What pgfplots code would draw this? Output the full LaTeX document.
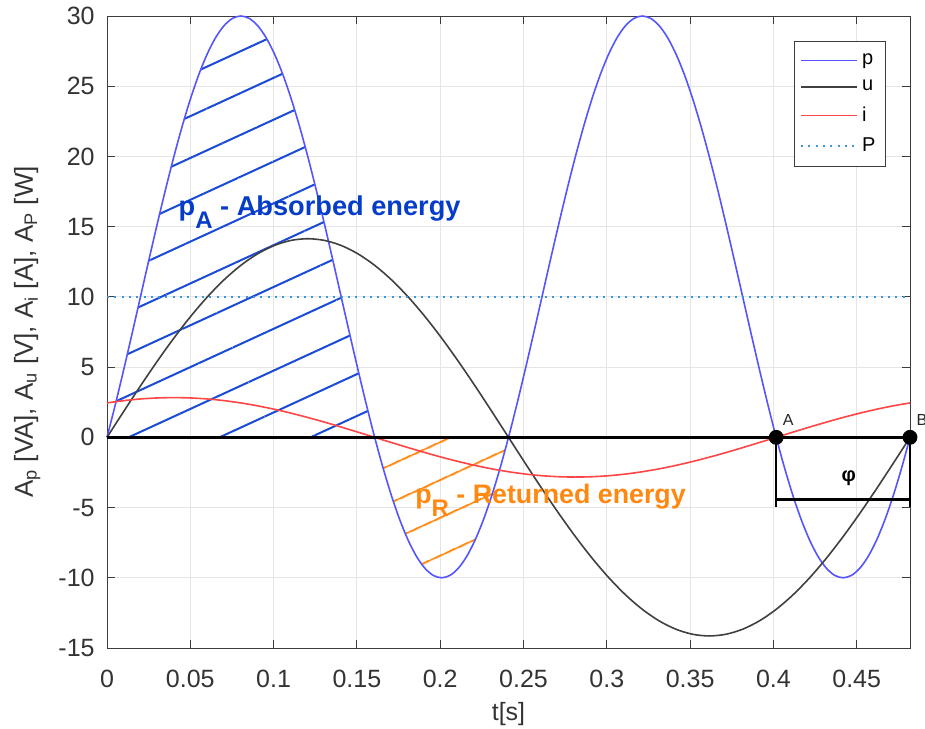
\documentclass[border=0pt]{standalone}
\usepackage{fontspec}
\setmainfont{Liberation Sans}
\usepackage{pgfplots}
\usepackage{pgfplotstable}
\pgfplotsset{compat=1.18}
\usepgfplotslibrary{fillbetween}
\usetikzlibrary{patterns.meta}
\definecolor{pblue}{RGB}{85,85,255}
\definecolor{ugray}{RGB}{64,64,64}
\definecolor{ired}{RGB}{255,70,70}
\definecolor{pdot}{RGB}{60,150,215}
\definecolor{hatchblue}{RGB}{25,75,215}
\definecolor{textblue}{RGB}{5,60,200}
\definecolor{orng}{RGB}{255,136,17}
\definecolor{axgray}{RGB}{60,60,60}
\pgfplotstableread{
t p
0.00000 0
0.00502 2.346
0.01004 4.824
0.01506 7.389
0.02008 10
0.02510 12.611
0.03013 15.176
0.03515 17.654
0.04017 20
0.04519 22.175
0.05021 24.142
0.05523 25.867
0.06025 27.321
0.06527 28.478
0.07029 29.319
0.07531 29.829
0.08033 30
0.08535 29.829
0.09038 29.319
0.09540 28.478
0.10042 27.321
0.10544 25.867
0.11046 24.142
0.11548 22.175
0.12050 20
0.12552 17.654
0.13054 15.176
0.13556 12.611
0.14058 10
0.14560 7.389
0.15063 4.824
0.15565 2.346
0.16067 0
0.16569 -2.175
0.17071 -4.142
0.17573 -5.867
0.18075 -7.321
0.18577 -8.478
0.19079 -9.319
0.19581 -9.829
0.20083 -10
0.20585 -9.829
0.21088 -9.319
0.21590 -8.478
0.22092 -7.321
0.22594 -5.867
0.23096 -4.142
0.23598 -2.175
0.24100 0
0.24602 2.346
0.25104 4.824
0.25606 7.389
0.26108 10
0.26610 12.611
0.27113 15.176
0.27615 17.654
0.28117 20
0.28619 22.175
0.29121 24.142
0.29623 25.867
0.30125 27.321
0.30627 28.478
0.31129 29.319
0.31631 29.829
0.32133 30
0.32635 29.829
0.33138 29.319
0.33640 28.478
0.34142 27.321
0.34644 25.867
0.35146 24.142
0.35648 22.175
0.36150 20
0.36652 17.654
0.37154 15.176
0.37656 12.611
0.38158 10
0.38660 7.389
0.39163 4.824
0.39665 2.346
0.40167 0
0.40669 -2.175
0.41171 -4.142
0.41673 -5.867
0.42175 -7.321
0.42677 -8.478
0.43179 -9.319
0.43681 -9.829
0.44183 -10
0.44685 -9.829
0.45188 -9.319
0.45690 -8.478
0.46192 -7.321
0.46694 -5.867
0.47196 -4.142
0.47698 -2.175
0.48200 0
}\ptab
\pgfplotstableread{
t u i
0.00000 0 2.449
0.01004 1.846 2.613
0.02008 3.660 2.732
0.03013 5.412 2.804
0.04017 7.071 2.828
0.05021 8.609 2.804
0.06025 10.000 2.732
0.07029 11.220 2.613
0.08033 12.247 2.449
0.09038 13.066 2.244
0.10042 13.660 2.000
0.11046 14.021 1.722
0.12050 14.142 1.414
0.13054 14.021 1.082
0.14058 13.660 0.732
0.15063 13.066 0.369
0.16067 12.247 0
0.17071 11.220 -0.369
0.18075 10.000 -0.732
0.19079 8.609 -1.082
0.20083 7.071 -1.414
0.21088 5.412 -1.722
0.22092 3.660 -2.000
0.23096 1.846 -2.244
0.24100 0 -2.449
0.25104 -1.846 -2.613
0.26108 -3.660 -2.732
0.27113 -5.412 -2.804
0.28117 -7.071 -2.828
0.29121 -8.609 -2.804
0.30125 -10.000 -2.732
0.31129 -11.220 -2.613
0.32133 -12.247 -2.449
0.33138 -13.066 -2.244
0.34142 -13.660 -2.000
0.35146 -14.021 -1.722
0.36150 -14.142 -1.414
0.37154 -14.021 -1.082
0.38158 -13.660 -0.732
0.39163 -13.066 -0.369
0.40167 -12.247 0
0.41171 -11.220 0.369
0.42175 -10.000 0.732
0.43179 -8.609 1.082
0.44183 -7.071 1.414
0.45188 -5.412 1.722
0.46192 -3.660 2.000
0.47196 -1.846 2.244
0.48200 0 2.449
}\uitab
\begin{document}
\begin{tikzpicture}
\begin{axis}[
  set layers,
  width=401.5pt, height=316pt, scale only axis,
  xmin=0, xmax=0.482, ymin=-15, ymax=30,
  clip=false,
  xtick={0,0.05,0.1,0.15,0.2,0.25,0.3,0.35,0.4,0.45},
  xticklabels={0,0.05,0.1,0.15,0.2,0.25,0.3,0.35,0.4,0.45},
  ytick={-15,-10,-5,0,5,10,15,20,25,30},
  yticklabels={-15,-10,-5,0,5,10,15,20,25,30},
  tick align=inside, major tick length=4pt,
  grid=major, grid style={color=black!10, line width=0.5pt},
  axis line style={color=axgray, line width=0.5pt},
  tick style={color=axgray, line width=0.5pt},
  ticklabel style={font=\fontsize{12.5}{14}\selectfont, text=black!80},
  xticklabel style={anchor=base, yshift=-19.5pt},
  yticklabel style={anchor=east, inner sep=0pt, xshift=-6pt},
  xlabel={t[s]},
  xlabel style={at={(axis description cs:0.5,0)}, anchor=base, yshift=-36pt, font=\fontsize{12.5}{14}\selectfont, text=black!80},
  ylabel={A\textsubscript{p} [VA], A\textsubscript{u} [V], A\textsubscript{i} [A], A\textsubscript{P} [W]},
  ylabel style={at={(axis description cs:-0.0922,0.5)}, anchor=base, font=\fontsize{13}{15}\selectfont, text=black!80},
  legend cell align=left,
  legend image code/.code={\draw[#1] (0pt,0pt) -- (28pt,0pt);},
  legend style={at={(axis description cs:1,1)}, anchor=north east, xshift=-12pt, yshift=-12.5pt,
    draw=axgray, line width=0.5pt, font=\fontsize{10}{12}\selectfont, row sep=2.5pt, inner ysep=4pt},
]
\addplot[pblue, line width=0.8pt, smooth, name path=pp] table[x=t,y=p]{\ptab};
\addlegendentry{p}
\addplot[ugray, line width=0.8pt, smooth] table[x=t,y=u]{\uitab};
\addlegendentry{u}
\addplot[ired, line width=0.8pt, smooth] table[x=t,y=i]{\uitab};
\addlegendentry{i}
\addplot[pdot, line width=1pt, dash pattern=on 1pt off 2.65pt] coordinates {(0,10) (0.482,10)};
\addlegendentry{P}
\addplot[black, line width=1.3pt, name path=zero, forget plot] coordinates {(0,0) (0.482,0)};
\addplot[draw=none, pattern={Lines[angle=24.7, distance=19pt, line width=1pt, yshift=11.2pt]}, pattern color=hatchblue, forget plot]
  fill between[of=pp and zero, soft clip={domain=0:0.16067}];
\addplot[draw=none, pattern={Lines[angle=24.7, distance=17pt, line width=1pt, yshift=3.6pt]}, pattern color=orng, forget plot]
  fill between[of=pp and zero, soft clip={domain=0.16067:0.24100}];
\addplot[black, line width=1.2pt, forget plot] coordinates {(0.40167,0) (0.40167,-4.97)};
\addplot[black, line width=1.2pt, forget plot] coordinates {(0.482,0) (0.482,-4.97)};
\addplot[black, line width=1.2pt, forget plot] coordinates {(0.40167,-4.44) (0.482,-4.44)};
\addplot[only marks, mark=*, mark size=3.5pt, black, forget plot] coordinates {(0.40167,0) (0.482,0)};
\node[anchor=base west, inner sep=0pt, font=\fontsize{8}{9}\selectfont, text=black!85] at (axis cs:0.4054,0.855) {A};
\node[anchor=base west, inner sep=0pt, font=\fontsize{8}{9}\selectfont, text=black!85] at (axis cs:0.4858,0.855) {B};
\node[anchor=center, inner sep=0pt, font=\fontsize{10}{12}\selectfont\bfseries] at (axis cs:0.4452,-2.89) {φ};
\node[anchor=base west, inner sep=0pt, text=textblue, font=\fontsize{13.6}{15}\selectfont\bfseries] at (axis cs:0.0428,15.77) {p\raisebox{-6.3pt}{\fontsize{12}{13}\selectfont A} - Absorbed energy};
\node[anchor=base west, inner sep=0pt, text=orng, font=\fontsize{13.4}{15}\selectfont\bfseries] at (axis cs:0.1848,-4.73) {p\raisebox{-6.3pt}{\fontsize{12}{13}\selectfont R} - Returned energy};
\end{axis}
\pgfresetboundingbox
\path[use as bounding box] (-53.5pt,-40pt) rectangle (409pt,324pt);
\end{tikzpicture}
\end{document}
